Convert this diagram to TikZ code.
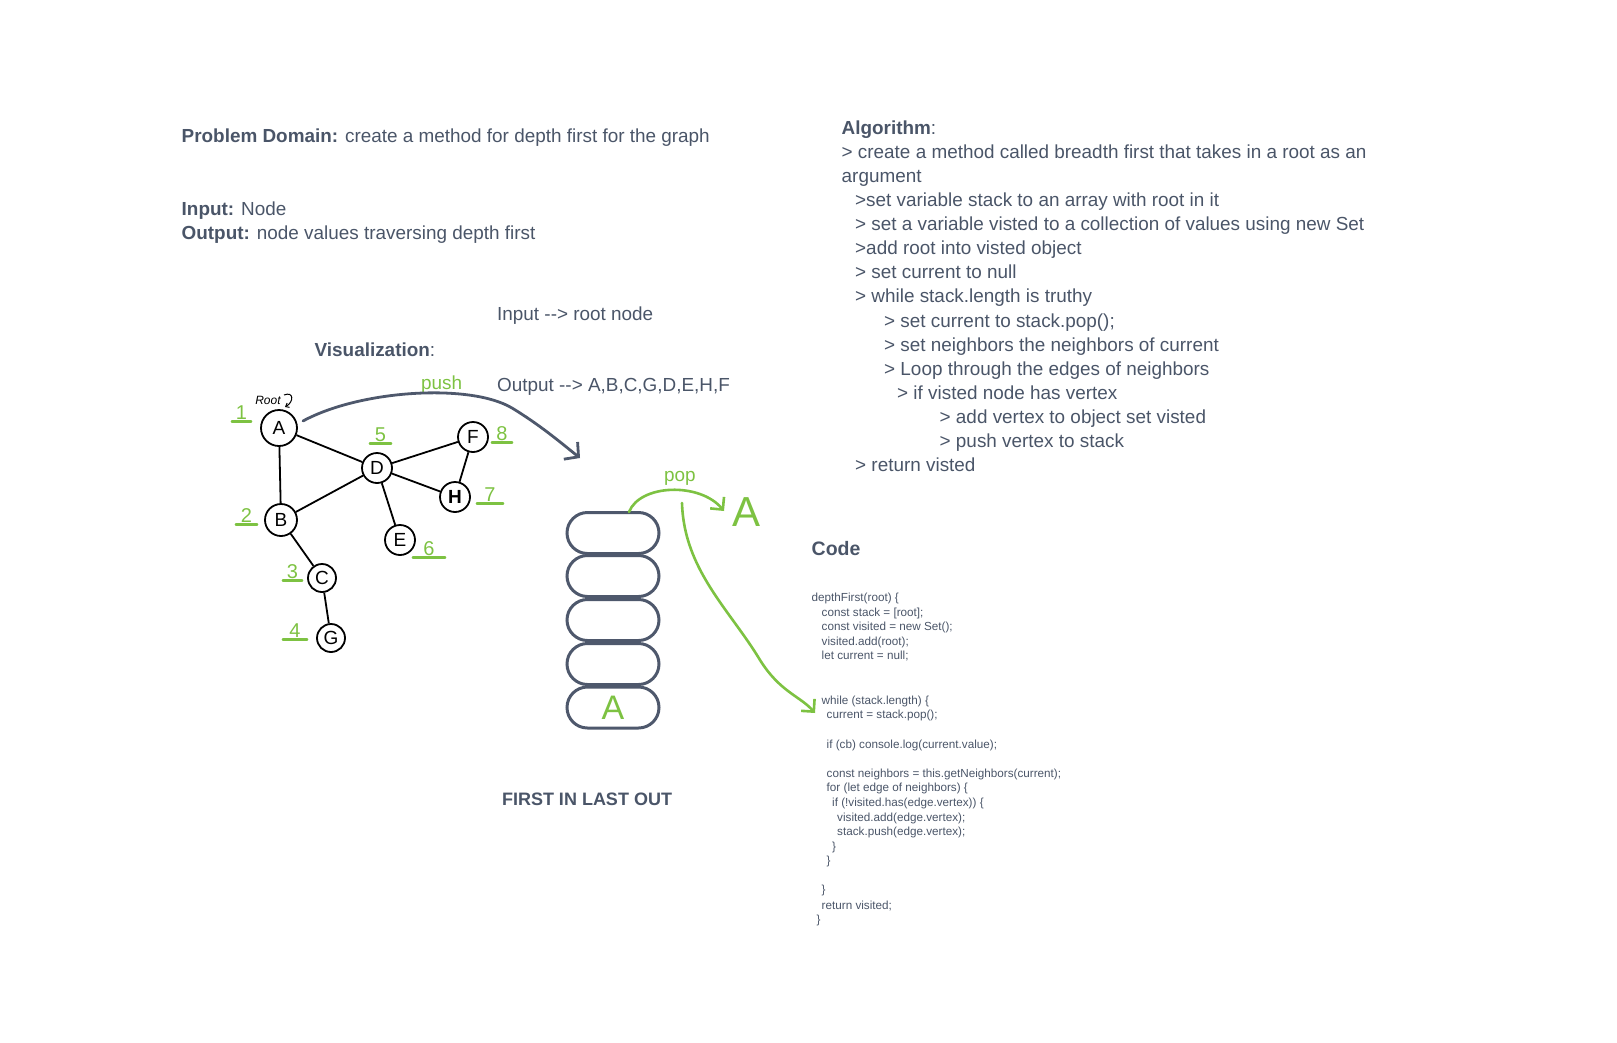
\documentclass[tikz,border=0pt]{standalone}
\usepackage{fontspec}
\setmainfont{Liberation Sans}
\usetikzlibrary{arrows.meta,shapes.misc}
\definecolor{txt}{RGB}{74,85,104}
\definecolor{grn}{RGB}{125,194,66}
\definecolor{stk}{RGB}{78,88,108}
\tikzset{
  body/.style={anchor=mid west, inner sep=0pt, text=txt, font=\fontsize{18.9}{22}\selectfont},
  codeline/.style={anchor=mid west, inner sep=0pt, text=txt, font=\fontsize{11.7}{13}\selectfont},
  gnode/.style={circle, draw=black, line width=1.8pt, fill=white, inner sep=0pt, font=\fontsize{19}{20}\selectfont},
  gedge/.style={black, line width=1.8pt},
  numlbl/.style={anchor=south, inner sep=0pt, text=grn, font=\fontsize{20}{20}\selectfont},
  uline/.style={grn, line width=2.4pt, line cap=round},
  stackbox/.style={rounded rectangle, draw=stk, line width=3pt, minimum width=92pt, minimum height=41pt, inner sep=0pt},
  greenarrow/.style={grn, line width=2.6pt, line cap=round, -{Straight Barb[length=9pt,width=18pt,line width=2.6pt]}}
}
\begin{document}
\begin{tikzpicture}[x=1pt,y=-1pt]
\useasboundingbox (0,0) rectangle (1617,1042);

% ---- left text
\node[body] (pd) at (181.5,140) {\textbf{Problem Domain:} create a method for depth first for the graph};
\node[body] (inp) at (181.5,212.5) {\textbf{Input:} Node};
\node[body] (outp) at (181.5,236.5) {\textbf{Output:} node values traversing depth first};
\node[body] (inroot) at (497,317.5) {Input -{}-> root node};
\node[body] (vis) at (314.5,353.5) {\textbf{Visualization}:};
\node[body] (outseq) at (497,388.5) {Output -{}-> A,B,C,G,D,E,H,F};
\node[body, text=grn] (push) at (421,387) {push};

% ---- algorithm
\node[body] (al0) at (841.5,132) {\textbf{Algorithm}:};
\node[body] (al1) at (841.5,156) {> create a method called breadth first that takes in a root as an};
\node[body] (al2) at (841.5,180) {argument};
\node[body] (al3) at (855,204) {>set variable stack to an array with root in it};
\node[body] (al4) at (855,228) {> set a variable visted to a collection of values using new Set};
\node[body] (al5) at (855,252) {>add root into visted object};
\node[body] (al6) at (855,276) {> set current to null};
\node[body] (al7) at (855,300) {> while stack.length is truthy};
\node[body] (al8) at (884,324.5) {> set current to stack.pop();};
\node[body] (al9) at (884,348.5) {> set neighbors the neighbors of current};
\node[body] (al10) at (884,372.5) {> Loop through the edges of neighbors};
\node[body] (al11) at (897,396.5) {> if visted node has vertex};
\node[body] (al12) at (939.5,420.5) {> add vertex to object set visted};
\node[body] (al13) at (939.5,444.5) {> push vertex to stack};
\node[body] (al14) at (855,468.5) {> return visted};

% ---- code
\node[body, font=\fontsize{19.5}{22}\selectfont\bfseries] (codeh) at (811.5,553) {Code};
\node[codeline] (c1) at (811.5,599) {depthFirst(root) \{};
\node[codeline] (c2) at (821.5,613.5) {const stack = [root];};
\node[codeline] (c3) at (821.5,628) {const visited = new Set();};
\node[codeline] (c4) at (821.5,642.5) {visited.add(root);};
\node[codeline] (c5) at (821.5,657) {let current = null;};
\node[codeline] (c6) at (821.5,701.5) {while (stack.length) \{};
\node[codeline] (c7) at (826.5,716) {current = stack.pop();};
\node[codeline] (c8) at (826.5,745.5) {if (cb) console.log(current.value);};
\node[codeline] (c9) at (826.5,774.5) {const neighbors = this.getNeighbors(current);};
\node[codeline] (c10) at (826.5,789) {for (let edge of neighbors) \{};
\node[codeline] (c11) at (832,803.5) {if (!visited.has(edge.vertex)) \{};
\node[codeline] (c12) at (837,818.5) {visited.add(edge.vertex);};
\node[codeline] (c13) at (837,833) {stack.push(edge.vertex);};
\node[codeline] (c14) at (832,847.5) {\}};
\node[codeline] (c15) at (826.5,862) {\}};
\node[codeline] (c16) at (821.5,891) {\}};
\node[codeline] (c17) at (821.5,906.5) {return visited;};
\node[codeline] (c18) at (816.5,921) {\}};

% ---- graph
\node[gnode, minimum size=36pt] (A) at (279,428) {A};
\node[gnode, minimum size=32pt] (B) at (281,520) {B};
\node[gnode, minimum size=28pt] (C) at (322,578) {C};
\node[gnode, minimum size=28pt] (G) at (331,638) {G};
\node[gnode, minimum size=30pt] (D) at (377,468) {D};
\node[gnode, minimum size=30pt] (E) at (400,540) {E};
\node[gnode, minimum size=30pt] (F) at (473,437) {F};
\node[gnode, minimum size=30pt] (H) at (455,497) {\textbf{H}};
\draw[gedge] (A) -- (B);
\draw[gedge] (A) -- (D);
\draw[gedge] (B) -- (D);
\draw[gedge] (B) -- (C);
\draw[gedge] (C) -- (G);
\draw[gedge] (D) -- (F);
\draw[gedge] (D) -- (H);
\draw[gedge] (D) -- (E);
\draw[gedge] (F) -- (H);

% root label
\node[inner sep=0pt, font=\fontsize{12}{12}\selectfont\itshape] (root) at (268,400) {Root};
\coordinate (rootA) at (284,395);
\coordinate (rootB) at (285,407);
\draw[black, line width=1pt, -{Straight Barb[length=3pt,width=5pt]}] (rootA) .. controls (294,391) and (294,402) .. (rootB);

% green order numbers
\node[numlbl, minimum width=19pt] (n1) at (241.5,420) {1};
\node[numlbl, minimum width=21pt] (n2) at (246.5,523) {2};
\node[numlbl, minimum width=19pt] (n3) at (292.5,579) {3};
\node[numlbl, minimum width=24pt] (n4) at (295,638) {4};
\node[numlbl, minimum width=21pt] (n5) at (380.5,442) {5};
\node[numlbl, minimum width=32pt] (n6) at (429,556) {6};
\node[numlbl, minimum width=26pt] (n7) at (490,502) {7};
\node[numlbl, minimum width=20pt] (n8) at (502,441) {8};
\foreach \n in {n1,n2,n3,n4,n5,n6,n7,n8}
  \draw[uline] ([yshift=-1.5pt]\n.south west) -- ([yshift=-1.5pt]\n.south east);

% push arrow
\coordinate (pushS) at (303,421);
\coordinate (pushE) at (580,458);
\draw[stk, line width=2.8pt, line cap=round, -{Straight Barb[length=10pt,width=22pt,line width=2.8pt]}]
  (pushS) .. controls (360,390) and (470,383) .. (512,408) .. controls (540,425) and (560,442) .. (pushE);

% stack
\node[stackbox] (s1) at (613,533) {};
\node[stackbox] (s2) at (613,576) {};
\node[stackbox] (s3) at (613,620) {};
\node[stackbox] (s4) at (613,664) {};
\node[stackbox, text=grn, font=\fontsize{34}{34}\selectfont] (s5) at (613,707.5) {A};

% pop
\node[body, text=grn] (pop) at (664,479) {pop};
\node[inner sep=0pt, text=grn, font=\fontsize{42}{42}\selectfont] (popA) at (746,512) {A};
\coordinate (popS) at (629,512);
\coordinate (popE) at (724,511);
\draw[greenarrow] (popS) .. controls (640,484) and (700,482) .. (popE);
\coordinate (longS) at (682,503);
\coordinate (longE) at (815,713);
\draw[greenarrow] (longS) .. controls (684,570) and (730,610) .. (760,660) .. controls (780,692) and (800,696) .. (longE);

% footer
\node[body, font=\fontsize{18}{20}\selectfont\bfseries, anchor=center] (filo) at (587,799) {FIRST IN LAST OUT};
\end{tikzpicture}
\end{document}
